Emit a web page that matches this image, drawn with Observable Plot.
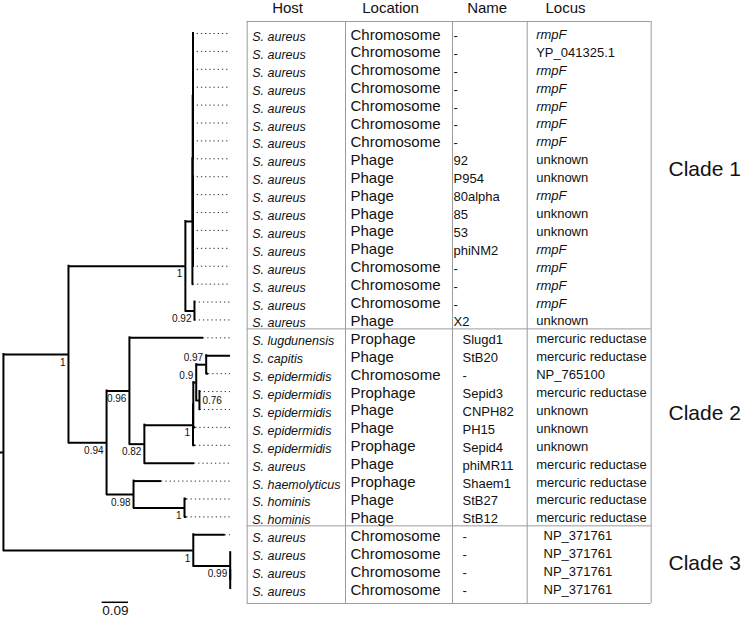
<!DOCTYPE html>
<html><head><meta charset="utf-8">
<script src="https://cdn.jsdelivr.net/npm/d3@7"></script>
<script src="https://cdn.jsdelivr.net/npm/@observablehq/plot@0.6"></script>
<style>
html,body{margin:0;padding:0;background:#fff;}
#chart{width:750px;height:619px;overflow:hidden;}
</style></head><body><div id="chart"></div>
<script>
// ---------- Tree (flat arrays, pre-order) ----------
const nodeIds = ["root","A","B1","B2","P","P1","L1","L2","L3","L4","L5","L6","L7","L8","P2","L9","L10","L11","L12","L13","L14","L15","B3","L16","L17",
  "E","F","L18","H","I","Q","L","K","L19","L20","N","L21","L22","L23","L24","L25","G","L26","O","L27","L28",
  "C","L29","D","L30","R","L31","L32"];
const nodeParents = ["","root","A","B1","B2","P","P1","P1","P1","P1","P1","P1","P1","P1","P","P2","P2","P2","P2","P2","P2","B2","B1","B3","B3",
  "A","E","F","F","H","I","Q","L","K","K","L","N","N","Q","I","H","E","G","G","O","O",
  "root","C","C","D","D","R","R"];
const branchLengths = [0.010,0.222,0.399,0.024,0.001,0.001,0,0,0,0,0,0,0,0,0.001,0,0,0,0,0,0,0.003,0.031,0.002,0.002,
  0.130,0.078,0.253,0.051,0.166,0.001,0.010,0.034,0.083,0.008,0.011,0.002,0.002,0.008,0.008,0.171,0.092,0.096,0.174,0.008,0.008,
  0.648,0.109,0.126,0,0,0,0];
const supportValues = {A:"1",B1:"1",B3:"0.92",E:"0.94",F:"0.96",H:"0.82",I:"1",L:"0.9",K:"0.97",N:"0.76",G:"0.98",O:"1",C:"1",D:"0.99"};
const supportSides = {L:"above",K:"above",N:"right"};

// ---------- Table ----------
const hosts = ["S. aureus","S. aureus","S. aureus","S. aureus","S. aureus","S. aureus","S. aureus","S. aureus","S. aureus","S. aureus","S. aureus","S. aureus","S. aureus","S. aureus","S. aureus","S. aureus","S. aureus",
  "S. lugdunensis","S. capitis","S. epidermidis","S. epidermidis","S. epidermidis","S. epidermidis","S. epidermidis","S. aureus","S. haemolyticus","S. hominis","S. hominis",
  "S. aureus","S. aureus","S. aureus","S. aureus"];
const locations = ["Chromosome","Chromosome","Chromosome","Chromosome","Chromosome","Chromosome","Chromosome","Phage","Phage","Phage","Phage","Phage","Phage","Chromosome","Chromosome","Chromosome","Phage",
  "Prophage","Phage","Chromosome","Prophage","Phage","Phage","Prophage","Phage","Prophage","Phage","Phage",
  "Chromosome","Chromosome","Chromosome","Chromosome"];
const names = ["-","-","-","-","-","-","-","92","P954","80alpha","85","53","phiNM2","-","-","-","X2",
  "Slugd1","StB20","-","Sepid3","CNPH82","PH15","Sepid4","phiMR11","Shaem1","StB27","StB12",
  "-","-","-","-"];
const loci = ["rmpF","YP_041325.1","rmpF","rmpF","rmpF","rmpF","rmpF","unknown","unknown","rmpF","unknown","unknown","rmpF","rmpF","rmpF","rmpF","unknown",
  "mercuric reductase","mercuric reductase","NP_765100","mercuric reductase","unknown","unknown","unknown","mercuric reductase","mercuric reductase","mercuric reductase","mercuric reductase",
  "NP_371761","NP_371761","NP_371761","NP_371761"];
const headers = ["Host","Location","Name","Locus"];
const cladeNames = ["Clade 1","Clade 2","Clade 3"];
const cladeSizes = [17, 11, 4];
const cladeLabelRows = [8.6, 22.2, 30.6];
const scaleBarValue = 0.09;
const scaleBarStart = 0.347;

// ---------- Build tree geometry ----------
const nodeTable = nodeIds.map((id, i) => ({id, parent: nodeParents[i] || null, len: branchLengths[i]}));
const root = d3.stratify().id(d => d.id).parentId(d => d.parent)(nodeTable);
root.eachBefore(n => n.x = (n.parent ? n.parent.x : 0) + n.data.len);
const leaves = root.leaves();
leaves.forEach((n, i) => n.row = i + 1);
root.eachAfter(n => { if (n.children) n.row = (n.children[0].row + n.children[n.children.length - 1].row) / 2; });
const tipX = d3.max(leaves, n => n.x);
const nodes = root.descendants();

const hBranches = nodes.filter(n => n.data.len > 0).map(n => ({x1: n.parent ? n.parent.x : 0, x2: n.x, row: n.row}));
const vBranches = nodes.filter(n => n.children).map(n => ({x: n.x, y1: n.children[0].row, y2: n.children[n.children.length - 1].row}));
const leaders = leaves.filter(n => n.x < tipX - 0.004).map(n => ({x1: n.x, x2: tipX, row: n.row}));
const supports = nodes.filter(n => supportValues[n.id]).map(n => ({x: n.x, row: n.row, label: supportValues[n.id], side: supportSides[n.id] || "below"}));

// rows
let cladeOf = [];
cladeSizes.forEach((s, c) => { for (let k = 0; k < s; k++) cladeOf.push(c); });
const rows = hosts.map((h, i) => ({row: i + 1, host: h, location: locations[i], name: names[i], locus: loci[i], clade: cladeOf[i]}));
const sepRows = [];
let acc = 0;
cladeSizes.slice(0, -1).forEach(s => { acc += s; sepRows.push(acc + 0.5); });

// layout helper: pixel position (layout) -> x units (x range is [0,230])
const PX = 230;
const X = p => p * tipX / PX;
const topRow = 0.33, bottomRow = 32.84;
const colLines = [246.7, 345, 452, 526.7, 650.7];
const headerPx = [271.7, 361.7, 466.7, 545];
const font = "'Liberation Sans', Arial, Helvetica, sans-serif";

const chart = Plot.plot({
  width: 750, height: 619,
  marginLeft: 0, marginRight: 750 - PX, marginTop: 33, marginBottom: 31,
  x: {domain: [0, tipX], axis: null},
  y: {domain: [32, 1], axis: null},
  style: {fontFamily: font, background: "#fff", color: "#000"},
  marks: [
    // table frame
    Plot.ruleX(colLines, {x: d => X(d), y1: topRow, y2: bottomRow, stroke: "#9c9c9c", strokeWidth: 1}),
    Plot.ruleY([topRow, ...sepRows, bottomRow], {y: d => d, x1: X(colLines[0]), x2: X(colLines[4]), stroke: "#9c9c9c", strokeWidth: 1}),
    // leaders
    Plot.ruleY(leaders, {y: "row", x1: "x1", x2: "x2", stroke: "#333", strokeWidth: 1, strokeDasharray: "1.3,2.9"}),
    // branches
    Plot.ruleX(vBranches, {x: "x", y1: "y1", y2: "y2", stroke: "#000", strokeWidth: 2, strokeLinecap: "square"}),
    Plot.ruleY(hBranches, {y: "row", x1: "x1", x2: "x2", stroke: "#000", strokeWidth: 2}),
    // support values
    Plot.text(supports.filter(d => d.side === "below"), {x: "x", y: "row", text: "label", textAnchor: "end", dx: -3, dy: 8, fontSize: 10, fill: "#111"}),
    Plot.text(supports.filter(d => d.side === "above"), {x: "x", y: "row", text: "label", textAnchor: "end", dx: -3, dy: -7, fontSize: 10, fill: "#111"}),
    Plot.text(supports.filter(d => d.side === "right"), {x: "x", y: "row", text: "label", textAnchor: "start", dx: 3, dy: 0, fontSize: 10, fill: "#111"}),
    // headers
    Plot.text(headers, {x: (d, i) => X(headerPx[i]), y: () => 1, text: d => d, textAnchor: "start", dy: -25, fontSize: 15, fill: "#111"}),
    // table rows
    Plot.text(rows, {x: () => X(251.7), y: "row", text: "host", textAnchor: "start", dy: 3.5, fontSize: 12.5, fontStyle: "italic", fill: "#111"}),
    Plot.text(rows, {x: () => X(350), y: "row", text: "location", textAnchor: "start", dy: 1.2, fontSize: 15, fill: "#111"}),
    Plot.text(rows, {x: d => X(d.clade === 0 ? 453 : 462), y: "row", text: "name", textAnchor: "start", dy: 2.3, fontSize: 13, fill: "#111"}),
    Plot.text(rows.filter(d => d.locus === "rmpF"), {x: () => X(535.7), y: "row", text: "locus", textAnchor: "start", dy: 1.3, fontSize: 13, fontStyle: "italic", fill: "#111"}),
    Plot.text(rows.filter(d => d.locus !== "rmpF"), {x: d => X(d.clade === 2 ? 543 : 535.7), y: "row", text: "locus", textAnchor: "start", dy: 1.3, fontSize: 13, fill: "#111"}),
    // clade labels
    Plot.text(cladeNames, {x: () => X(668), y: (d, i) => cladeLabelRows[i], text: d => d, textAnchor: "start", fontSize: 21, fill: "#111"}),
    // scale bar
    Plot.ruleY([32.77], {x1: scaleBarStart, x2: scaleBarStart + scaleBarValue, stroke: "#000", strokeWidth: 1.5}),
    Plot.text([scaleBarValue], {x: scaleBarStart + scaleBarValue / 2, y: () => 32.77, text: d => String(d), dy: 8.5, fontSize: 13.5, fill: "#111"})
  ]
});
document.getElementById("chart").appendChild(chart);
</script>
</body></html>
